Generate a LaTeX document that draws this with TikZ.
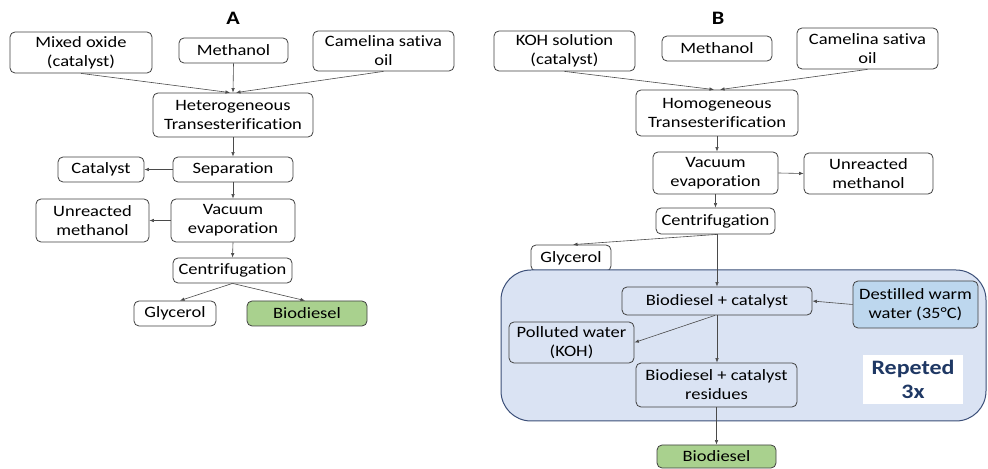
\documentclass[tikz,border=0pt]{standalone}
\usepackage{fontspec}
\setmainfont{Carlito}[FakeStretch=1.17, Ligatures={NoCommon}]
\usetikzlibrary{arrows.meta}
\definecolor{bordc}{HTML}{404040}
\definecolor{arrc}{HTML}{4A4A4A}
\definecolor{greenf}{HTML}{A9D18E}
\definecolor{regionf}{HTML}{DAE3F3}
\definecolor{regiond}{HTML}{3B4F78}
\definecolor{waterf}{HTML}{BDD7EE}
\definecolor{navy}{HTML}{1F3864}
\tikzset{
  box/.style={draw=bordc, line width=0.8bp, rounded corners=5bp, fill=white,
    align=center, inner sep=0pt, font=\fontsize{15.8bp}{19bp}\selectfont},
  inbox/.style={box, fill=regionf},
  arr/.style={draw=arrc, line width=0.6bp, -{Latex[length=4.5bp,width=3.5bp]}},
  ttl/.style={font=\bfseries\fontsize{19bp}{22bp}\selectfont},
  sz/.style 2 args={minimum width=#1bp, minimum height=#2bp},
}
\begin{document}
\begin{tikzpicture}[x=1bp,y=-1bp]
\useasboundingbox (0,0) rectangle (988,469);
% ---------- A ----------
\node[ttl] (tA) at (233,18) {A};
\node[box,sz={142}{41}] (mixA) at (81,52.5) {Mixed oxide\\(catalyst)};
\node[box,sz={109}{25}] (methA) at (233.5,50.5) {Methanol};
\node[box,sz={141}{40}] (camA) at (383.5,51) {Camelina sativa\\oil};
\node[box,sz={160}{44}] (hetA) at (233,115) {Heterogeneous\\Transesterification};
\node[box,sz={120}{25}] (sepA) at (233,169.5) {Separation};
\node[box,sz={86}{25}] (catA) at (101,169.5) {Catalyst};
\node[box,sz={124}{43}] (vacA) at (233,220.5) {Vacuum\\evaporation};
\node[box,sz={113}{43}] (unrA) at (92.5,220.5) {Unreacted\\methanol};
\node[box,sz={119}{25}] (cenA) at (232.5,270.5) {Centrifugation};
\node[box,sz={82}{25}] (glyA) at (175,313.5) {Glycerol};
\node[box,fill=greenf,sz={120}{25}] (bioA) at (307,313.5) {Biodiesel};
\draw[arr] (mixA.south) -- ([xshift=-3bp]hetA.north);
\draw[arr] (methA.south) -- (hetA.north);
\draw[arr] (camA.south) -- ([xshift=3bp]hetA.north);
\draw[arr] (hetA.south) -- (sepA.north);
\draw[arr] (sepA.west) -- (catA.east);
\draw[arr] (sepA.south) -- (vacA.north);
\draw[arr] (vacA.west) -- (unrA.east);
\draw[arr] (vacA.south) -- (cenA.north);
\draw[arr] (cenA.south) -- ([xshift=5bp]glyA.north);
\draw[arr] (cenA.south) -- ([xshift=-2bp]bioA.north);
% ---------- B ----------
\node[ttl] (tB) at (718,18) {B};
\node[box,sz={141}{40}] (kohB) at (564.5,51) {KOH solution\\(catalyst)};
\node[box,sz={110}{25}] (methB) at (717,48.5) {Methanol};
\node[box,sz={141}{41}] (camB) at (867.5,48.5) {Camelina sativa\\oil};
\node[box,sz={162}{46}] (homB) at (717,113) {Homogeneous\\Transesterification};
\node[box,sz={125}{42}] (vacB) at (715.5,173) {Vacuum\\evaporation};
\node[box,sz={129}{41}] (unrB) at (868.5,173.5) {Unreacted\\methanol};
\node[box,sz={119}{26}] (cenB) at (715.5,221) {Centrifugation};
\node[box,sz={80}{26}] (glyB) at (571,258) {Glycerol};
\draw[draw=regiond, line width=1bp, fill=regionf, rounded corners=30bp] (501,270) rectangle (986,421);
\node[inbox,sz={190}{28}] (bcB) at (717,301) {Biodiesel + catalyst};
\node[box,fill=waterf,sz={125}{47}] (dwB) at (915.5,304.5) {Destilled warm\\water (35°C)};
\node[inbox,sz={125}{41}] (polB) at (571.5,342.5) {Polluted water\\(KOH)};
\node[inbox,sz={161}{44}] (resB) at (716.5,385) {Biodiesel + catalyst\\residues};
\node[fill=white, inner sep=0pt, align=center, sz={100}{49},
  font=\bfseries\fontsize{20.5bp}{24bp}\selectfont, text=navy] (repB) at (913,379.5) {Repeted\\3x};
\node[box,fill=greenf,sz={119}{23}] (bioB) at (716.5,456.5) {Biodiesel};
\draw[arr] (kohB.south) -- ([xshift=-3bp]homB.north);
\draw[arr] (camB.south) -- ([xshift=3bp]homB.north);
\draw[arr] (homB.south) -- (homB.south |- vacB.north);
\draw[arr] (vacB.east) -- (unrB.west);
\draw[arr] (vacB.south) -- (cenB.north);
\draw[arr] ([xshift=1.5bp]cenB.south) -- ([xshift=2bp]glyB.north);
\draw[arr] ([xshift=1.5bp]cenB.south) -- ([xshift=1.5bp]cenB.south |- bcB.north);
\draw[arr] (dwB.west) -- (bcB.east);
\draw[arr] (bcB.south) -- (bcB.south |- resB.north);
\draw[arr] ([xshift=-2bp]bcB.south) -- (polB.east);
\draw[arr] (resB.south) -- (resB.south |- bioB.north);
\end{tikzpicture}
\end{document}
